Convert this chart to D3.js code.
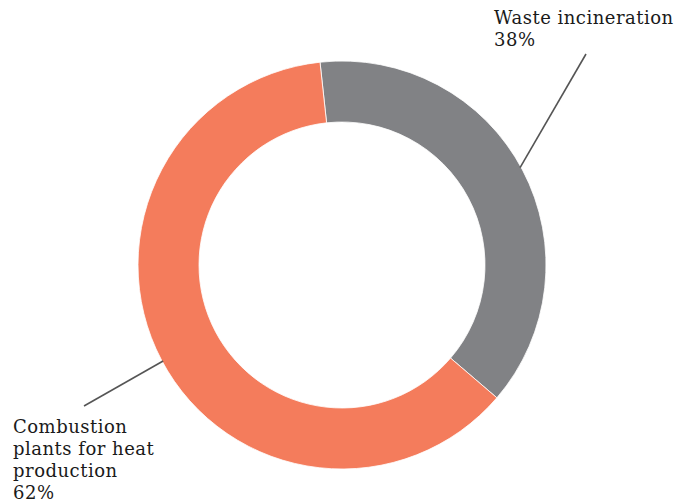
<!DOCTYPE html>
<html>
<head>
<meta charset="utf-8">
<script src="https://cdn.jsdelivr.net/npm/d3@7"></script>
<style>
  html, body { margin: 0; padding: 0; background: #fff; }
  svg text { font-family: "DejaVu Serif", serif; font-size: 18px; letter-spacing: 0.5px; fill: #1a1a1a; }
</style>
</head>
<body>
<svg id="chart" width="690" height="502"></svg>
<script>
// Shares of emissions by source
const categories = ["Waste incineration", "Combustion plants for heat production"];
const values = [38, 62];
const colors = ["#818285", "#F47C5C"];
const labelLines = [["Waste incineration", "38%"], ["Combustion", "plants for heat", "production", "62%"]];

const svg = d3.select("#chart");
const cx = 342, cy = 265;
const outerR = 204, innerR = 143;
const startOffset = -0.108; // radians; first slice begins just left of twelve o'clock

const pie = d3.pie().sort(null).value(d => d)
  .startAngle(startOffset).endAngle(startOffset + 2 * Math.PI);
const arcs = pie(values);
const arc = d3.arc().innerRadius(innerR).outerRadius(outerR);

const g = svg.append("g").attr("transform", `translate(${cx},${cy})`);
g.selectAll("path").data(arcs).enter().append("path")
  .attr("d", arc)
  .attr("fill", (d, i) => colors[i])
  .attr("stroke", "#fff")
  .attr("stroke-width", 0.8);

// Leader lines from the ring's outer edge out to the labels
const leaderAngles = [1.07, 4.22];
const leaderEnds = [[586, 54], [84, 406]];
leaderAngles.forEach((ang, i) => {
  const x0 = cx + (outerR - 1) * Math.sin(ang), y0 = cy - (outerR - 1) * Math.cos(ang);
  svg.append("line")
    .attr("x1", x0).attr("y1", y0)
    .attr("x2", leaderEnds[i][0]).attr("y2", leaderEnds[i][1])
    .attr("stroke", "#555").attr("stroke-width", 1.6);
});

// Labels
const labelPos = [[494, 24], [13, 433]];
labelLines.forEach((lines, i) => {
  const t = svg.append("text").attr("x", labelPos[i][0]).attr("y", labelPos[i][1]);
  lines.forEach((s, j) => {
    t.append("tspan").attr("x", labelPos[i][0]).attr("dy", j === 0 ? 0 : 22).text(s);
  });
});
</script>
</body>
</html>
